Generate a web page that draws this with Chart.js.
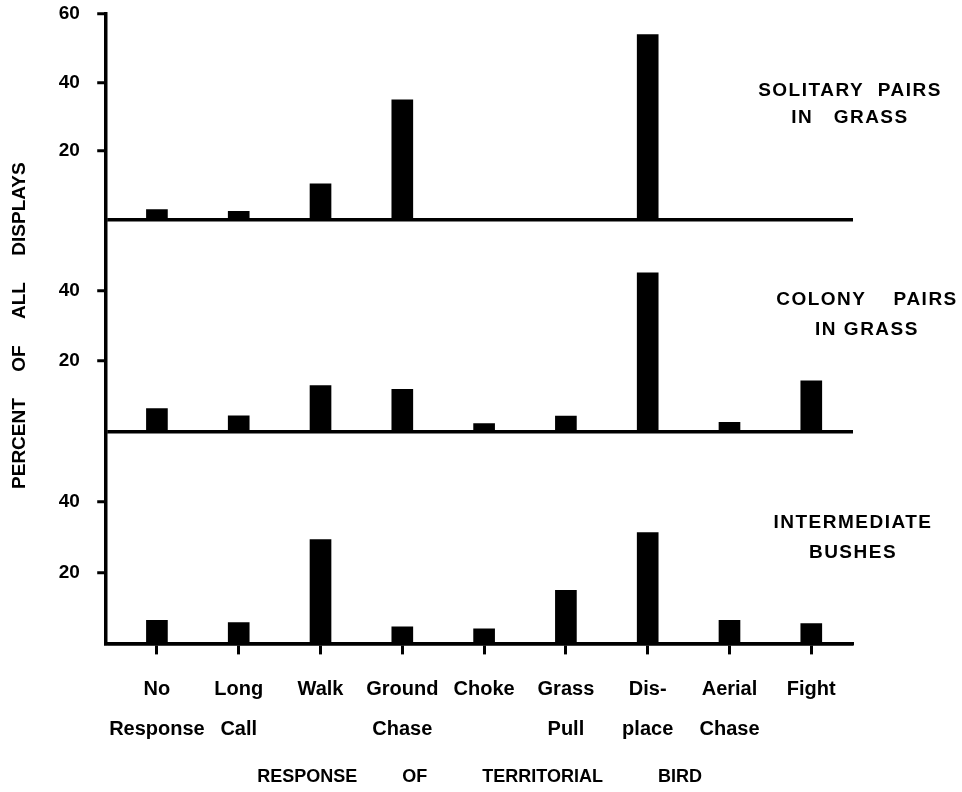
<!DOCTYPE html>
<html>
<head>
<meta charset="utf-8">
<title>Response of territorial bird</title>
<script src="https://cdn.jsdelivr.net/npm/chart.js@4.4.0/dist/chart.umd.min.js"></script>
<style>
  html, body { margin: 0; padding: 0; background: #fff; }
  #wrap { width: 962px; height: 792px; }
</style>
</head>
<body>
<div id="wrap"><canvas id="chart"></canvas></div>
<script>
var responses = [['No', 'Response'], ['Long', 'Call'], ['Walk'], ['Ground', 'Chase'], ['Choke'],
  ['Grass', 'Pull'], ['Dis-', 'place'], ['Aerial', 'Chase'], ['Fight']];

// percent of all displays, one array per habitat
var solitaryGrass = [3, 2.5, 10.5, 35, 0, 0, 54, 0, 0];
var colonyGrass = [6.5, 4.5, 13, 12, 2.3, 4.4, 45, 2.6, 14.4];
var intermediateBushes = [6.5, 5.9, 29.4, 4.7, 4.1, 15, 31.4, 6.5, 5.6];

var panelNames = [['SOLITARY  PAIRS', 'IN   GRASS'], ['COLONY    PAIRS', 'IN GRASS'], ['INTERMEDIATE', 'BUSHES']];
var panelTicks = [[20, 40, 60], [20, 40], [20, 40]];

var FONT = '"Liberation Sans", Arial, sans-serif';
Chart.defaults.font.family = FONT;
Chart.defaults.color = '#000';

function points(vals) {
  return vals.map(function (v, i) { return { x: i, y: v }; });
}

function panelAxis(shown, weight, title) {
  return {
    type: 'linear',
    position: 'left',
    stack: 'panels',
    stackWeight: weight,
    min: 0,
    max: 60,
    ticks: {
      stepSize: 20,
      // small padding and line height keep the top label from pushing the plot down;
      // the trailing space sets the gap to the tick mark instead
      padding: 12,
      font: { size: 19, weight: 'bold', lineHeight: 0.2 },
      callback: function (v) { return shown.indexOf(v) >= 0 ? v + ' ' : ''; }
    },
    grid: {
      drawOnChartArea: true,
      tickLength: 9,
      tickWidth: 3,
      lineWidth: 3.5,
      // only the zero line is drawn across the panel
      color: function (c) { return c.tick && c.tick.value === 0 ? '#000' : 'rgba(0,0,0,0)'; },
      tickColor: function (c) { return c.tick && shown.indexOf(c.tick.value) >= 0 ? '#000' : 'rgba(0,0,0,0)'; }
    },
    border: { display: true, color: '#000', width: 3.5 },
    title: title ? {
      display: true,
      text: title,
      font: { size: 19, weight: 'bold' },
      padding: { top: 8, bottom: 16 }
    } : { display: false }
  };
}

function barSet(vals, axis) {
  return {
    data: points(vals),
    yAxisID: axis,
    backgroundColor: '#000',
    borderWidth: 0,
    barThickness: 21,
    grouped: false
  };
}

var panelLabels = {
  id: 'panelLabels',
  afterDraw: function (chart) {
    var ctx = chart.ctx;
    var spots = [{ x: 850, y: [91, 118] }, { x: 867, y: [300, 330] }, { x: 853, y: [523, 553] }];
    ctx.save();
    ctx.fillStyle = '#000';
    ctx.font = 'bold 19px ' + FONT;
    ctx.textAlign = 'center';
    ctx.textBaseline = 'middle';
    ctx.letterSpacing = '1.5px';
    panelNames.forEach(function (lines, p) {
      lines.forEach(function (line, k) {
        ctx.fillText(line, spots[p].x, spots[p].y[k]);
      });
    });
    ctx.restore();
  }
};

new Chart(document.getElementById('chart'), {
  type: 'bar',
  data: {
    datasets: [
      barSet(solitaryGrass, 'ySol'),
      barSet(colonyGrass, 'yCol'),
      barSet(intermediateBushes, 'yInt')
    ]
  },
  options: {
    responsive: true,
    maintainAspectRatio: false,
    animation: false,
    layout: { padding: { top: 14, right: 109, left: 0, bottom: 0 } },
    plugins: { legend: { display: false }, tooltip: { enabled: false } },
    scales: {
      x: {
        type: 'linear',
        position: 'bottom',
        offset: false,
        min: -0.62,
        max: 8.51,
        ticks: {
          stepSize: 1,
          includeBounds: false,
          autoSkip: false,
          maxRotation: 0,
          padding: 15,
          font: { size: 20, weight: 'bold', lineHeight: 2 },
          callback: function (v) { return responses[v] || ''; }
        },
        grid: { offset: false, drawOnChartArea: false, tickLength: 11, tickWidth: 3, tickColor: '#000' },
        border: { display: true, color: '#000', width: 3.5 },
        title: {
          display: true,
          text: 'RESPONSE         OF           TERRITORIAL           BIRD',
          font: { size: 18, weight: 'bold' },
          padding: { top: 2, bottom: 4 }
        }
      },
      // stacked left axes are laid out bottom-up in definition order
      yInt: panelAxis(panelTicks[2], 211),
      yCol: panelAxis(panelTicks[1], 211, 'PERCENT     OF     ALL     DISPLAYS'),
      ySol: panelAxis(panelTicks[0], 205)
    }
  },
  plugins: [panelLabels]
});
</script>
</body>
</html>
